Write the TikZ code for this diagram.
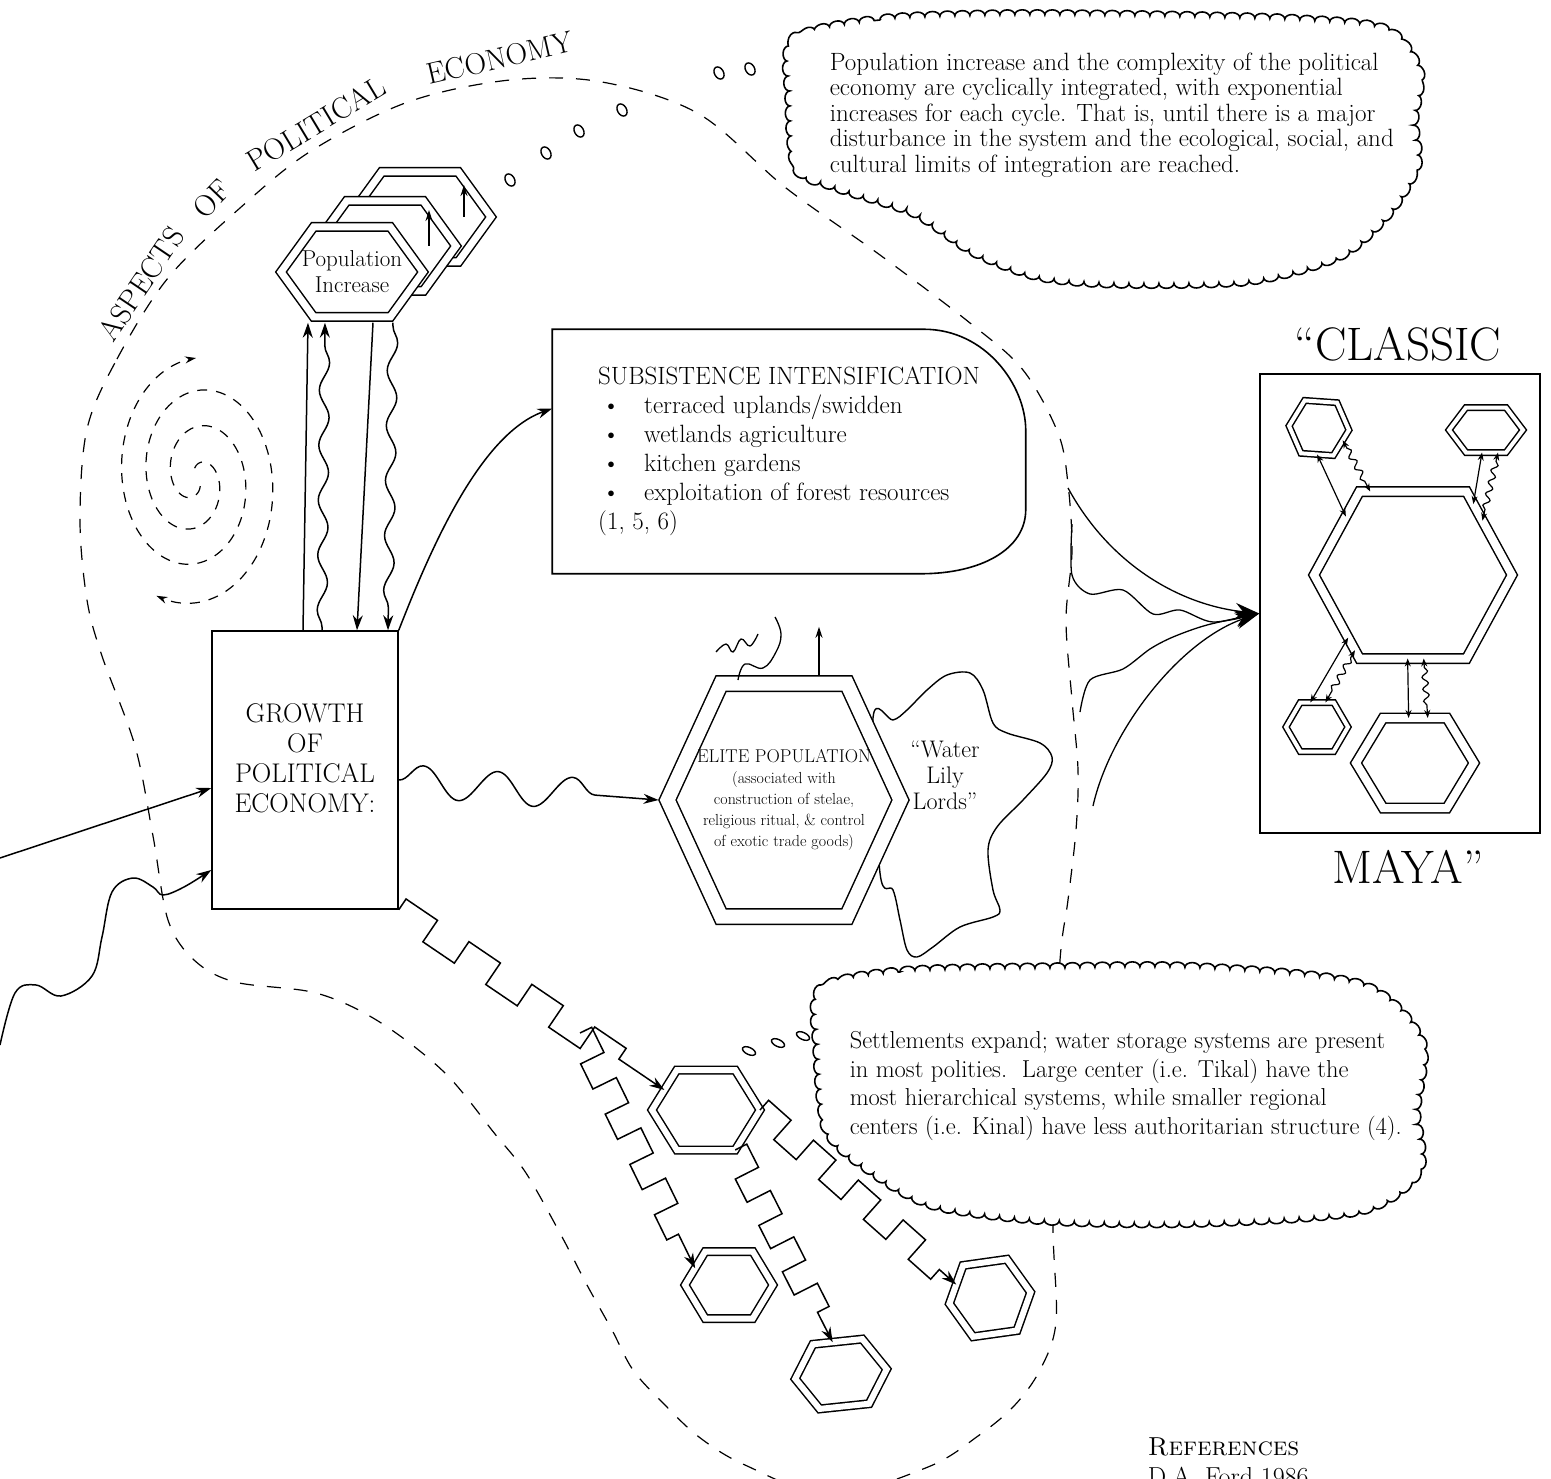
\documentclass[tikz,border=0pt]{standalone}
\usetikzlibrary{arrows.meta,calc,decorations.pathmorphing}

% square steps for the settlement links
\pgfdeclaredecoration{castle}{up}{%
  \state{up}[width=\pgfdecorationsegmentlength, next state=down]{%
    \pgfpathlineto{\pgfpoint{0pt}{\pgfdecorationsegmentamplitude}}%
    \pgfpathlineto{\pgfpoint{\pgfdecorationsegmentlength}{\pgfdecorationsegmentamplitude}}%
  }%
  \state{down}[width=\pgfdecorationsegmentlength, next state=up]{%
    \pgfpathlineto{\pgfpoint{0pt}{-\pgfdecorationsegmentamplitude}}%
    \pgfpathlineto{\pgfpoint{\pgfdecorationsegmentlength}{-\pgfdecorationsegmentamplitude}}%
  }%
  \state{final}{\pgfpathlineto{\pgfpointdecoratedpathlast}}%
}

\tikzset{
  arr/.style={-{Stealth[length=15pt,width=10pt]}},
  sarr/.style={-{Stealth[length=11pt,width=7pt]}},
  darr/.style={{Stealth[length=8pt,width=6pt]}-{Stealth[length=8pt,width=6pt]}},
  fanarr/.style={-{Stealth[length=24pt,width=16pt]}},
  bound/.style={dash pattern=on 14pt off 13pt, line width=1.2pt},
  spiral/.style={dash pattern=on 10pt off 9pt, line width=1.2pt},
  wave/.style={decorate, decoration={snake, segment length=55pt, amplitude=5pt, pre length=3pt, post length=16pt}},
  swave/.style={decorate, decoration={snake, segment length=12pt, amplitude=3pt, pre length=9pt, post length=9pt}},
  castle/.style={decorate, decoration={castle, segment length=#1, amplitude=13pt, post length=22pt}},
  castle/.default=38pt,
  cloudline/.style={decorate, decoration={bumps, segment length=30pt, amplitude=5pt}, line width=1.6pt, fill=white},
  cloudtext/.style={inner sep=0pt, align=left, font=\fontsize{25}{25.5}\selectfont},
  titletext/.style={inner sep=0pt, font=\fontsize{30}{32}\selectfont},
  hexline/.style={draw, double, line width=1.5pt, fill=white},
  hex font/.style={},
  hexbox/.style={inner sep=0pt, align=center, hex font},
  gbox/.style={draw, line width=1.5pt, fill=white},
  gtext/.style={align=center, font=\fontsize{27}{30}\selectfont},
  subtext/.style={inner sep=0pt, align=left, font=\fontsize{25}{29}\selectfont},
  bigtext/.style={inner sep=0pt, font=\fontsize{47}{52}\selectfont},
  pics/dhex/.style n args={4}{code={%
    % #1 width, #2 height, #3 gap of the double line, #4 text
    \draw[hexline, double distance=#3] (-#1/2,0) -- (-0.27*#1,-#2/2) -- (0.27*#1,-#2/2)
      -- (#1/2,0) -- (0.27*#1,#2/2) -- (-0.27*#1,#2/2) -- cycle;
    \coordinate (-w) at (-#1/2,0);
    \coordinate (-nw) at (-0.27*#1,-#2/2);
    \coordinate (-ne) at (0.27*#1,-#2/2);
    \coordinate (-e) at (#1/2,0);
    \coordinate (-se) at (0.27*#1,#2/2);
    \coordinate (-sw) at (-0.27*#1,#2/2);
    \node[hexbox, minimum width=#1, minimum height=#2] (-b) at (0,0) {#4};
  }}
}

\begin{document}
\begin{tikzpicture}[x=1pt, y=-1pt, line width=1.5pt]
\useasboundingbox (0,0) rectangle (1551,1479);

% boundary of the political economy
\draw[bound] plot[smooth cycle, tension=0.55] coordinates {
  (87,429) (117,359) (168,278) (240,208) (311,151) (408,102) (510,80) (602,82)
  (699,114) (786,188) (880,255) (970,323) (1023,370) (1058,433) (1068,484)
  (1072,551) (1066,620) (1072,700) (1078,770) (1076,830) (1068,900) (1060,960)
  (1053,1100) (1053,1230) (1056,1322) (1040,1370) (1014,1406) (978,1436)
  (928,1467) (830,1495) (745,1465) (699,1437) (663,1403) (633,1370) (612,1330)
  (587,1285) (561,1235) (526,1173) (495,1134) (444,1072) (378,1021) (316,993)
  (235,982) (194,960) (168,920) (153,836) (135,746) (102,656) (87,600) (80,520)};

% title round the boundary
\node[titletext, rotate=56] (asp) at (141,284) {ASPECTS};
\node[titletext, rotate=46] (of) at (212,199) {OF};
\node[titletext, rotate=31] (pol) at (316,124) {POLITICAL};
\node[titletext, rotate=13] (eco) at (500,58) {ECONOMY};

% whirl
\draw[spiral, sarr] plot[domain=-666:-90, samples=90, smooth, variable=\t]
  ({196+0.72*(10+(\t+666)/576*110)*cos(\t)}, {478+(10+(\t+666)/576*110)*sin(\t)});
\draw[spiral, sarr] plot[domain=-461:115, samples=90, smooth, variable=\t]
  ({196+0.72*(10+(\t+461)/576*120)*cos(\t)}, {478+(10+(\t+461)/576*120)*sin(\t)});

% thought bubbles
\foreach \x/\y in {510/180, 546/153, 579/131, 622/110, 719/73, 750/69}
  \draw[line width=1.4pt, rotate around={30:(\x,\y)}] (\x,\y) circle[x radius=4.5, y radius=6.5];
\foreach \x/\y in {749/1051, 778/1043, 803/1036}
  \draw[line width=1.4pt, rotate around={-25:(\x,\y)}] (\x,\y) circle[x radius=7, y radius=3.5];

% top cloud
\draw[cloudline] plot[smooth cycle, tension=0.5] coordinates {
  (795,40) (880,20) (1000,15) (1150,16) (1300,20) (1385,30) (1418,70) (1414,120)
  (1416,165) (1389,212) (1340,255) (1250,280) (1120,283) (1040,276) (975,252)
  (915,213) (840,188) (798,168) (790,100)};
\node[cloudtext, anchor=north west] (cycle) at (829,52) {Population increase and the complexity of the political\\
  economy are cyclically integrated, with exponential\\
  increases for each cycle. That is, until there is a major\\
  disturbance in the system and the ecological, social, and\\
  cultural limits of integration are reached.};

% population increase, repeated
\pic (pop3) at (420,217) {dhex={142}{90}{7pt}{}};
\draw[sarr] ([xshift=44pt]pop3-b.center) -- ++(0,-32);
\pic (pop2) at (385,246) {dhex={142}{90}{7pt}{}};
\draw[sarr] ([xshift=44pt]pop2-b.center) -- ++(0,-36);
\pic[hex font/.style={font=\fontsize{23}{26}\selectfont}] (pop) at (352,272) {dhex={142}{90}{7pt}{Population\\Increase}};

% growth of political economy
\node[gbox, minimum width=186, minimum height=278] (grow) at (305,770) {};
\node[gtext] (growtxt) at (305,758) {GROWTH\\OF\\POLITICAL\\ECONOMY:};

\draw[arr] ([xshift=-2pt]grow.north) -- ([xshift=-44pt,yshift=-5pt]pop-b.south);
\draw[arr, wave] ([xshift=17pt]grow.north) -- ([xshift=-27pt,yshift=-5pt]pop-b.south);
\draw[arr] ([xshift=21pt,yshift=-5pt]pop-b.south) -- ([xshift=52pt]grow.north);
\draw[arr, wave] ([xshift=41pt,yshift=-5pt]pop-b.south) -- ([xshift=83pt]grow.north);

% inputs from the left
\coordinate (in1) at (0,858);
\coordinate (in2) at (0,1045);
\draw[arr] (in1) -- ([yshift=-18pt]grow.west);
\draw[arr] plot[smooth, tension=0.6] coordinates {(in2) (15,993) (36,985) (61,996) (92,976)
  (102,937) (112,892) (133,878) (153,887) (163,895) (184,887) ([yshift=-100pt]grow.west)};

% subsistence intensification
\node[subtext, minimum width=472, minimum height=243] (sub) at (789,451.5) {SUBSISTENCE INTENSIFICATION\\
  \makebox[46pt][l]{\hspace{4pt}\textbullet}terraced uplands/swidden\\
  \makebox[46pt][l]{\hspace{4pt}\textbullet}wetlands agriculture\\
  \makebox[46pt][l]{\hspace{4pt}\textbullet}kitchen gardens\\
  \makebox[46pt][l]{\hspace{4pt}\textbullet}exploitation of forest resources\\
  (1, 5, 6)};
\draw[line width=1.6pt] (sub.south west) -- (sub.north west) -- ([xshift=-102pt]sub.north east)
  .. controls +(62,0) and +(0,-45) .. ([yshift=21pt]sub.east)
  -- ([yshift=-58pt]sub.east) .. controls +(0,40) and +(60,0) .. ([xshift=-105pt]sub.south east) -- cycle;
\draw[arr] (grow.north east) .. controls +(35,-90) and +(-70,25) .. ([yshift=43pt]sub.west);

% water lily lords
\draw[line width=1.4pt, fill=white] plot[smooth cycle, tension=0.55] coordinates {
  (873,718) (893,720) (907,710) (927,690) (947,675) (970,673) (983,690) (993,723)
  (1007,733) (1040,743) (1052,757) (1047,773) (1023,800) (997,827) (988,850)
  (993,890) (1000,910) (993,917) (960,927) (933,947) (917,957) (907,950) (900,920)
  (893,890) (880,873)};
\node[align=center, font=\fontsize{24}{26}\selectfont] (lily) at (945,775) {``Water\\Lily\\Lords''};

% elite population
\pic[hex font/.style={font=\fontsize{16}{21}\selectfont}] (elite) at (784,800)
  {dhex={233}{233}{14pt}{{\fontsize{18.5}{21}\selectfont ELITE POPULATION}\\(associated with\\construction of stelae,\\religious ritual, \& control\\of exotic trade goods)}};
\draw[arr, decorate, decoration={snake, segment length=75pt, amplitude=16pt, post length=28pt}]
  ([yshift=-10pt]grow.east) -- ([xshift=-9pt]elite-w);
\draw[sarr] ([xshift=35pt,yshift=8pt]elite-b.north) -- ++(0,-48);
\draw[line width=1.3pt] plot[smooth, tension=0.7] coordinates {(738,680) (745,664) (763,668) (776,652) (781,634) (775,617)};
\draw[line width=1.3pt] plot[smooth, tension=0.7] coordinates {(716,652) (726,644) (733,652) (741,639) (750,646) (758,634)};

% settlements
\pic (h1) at (706,1110) {dhex={108}{80}{6pt}{}};
\pic (h2) at (729,1285) {dhex={88}{67}{6pt}{}};
\pic[rotate=6] (h3) at (841,1374) {dhex={92}{65}{6pt}{}};
\pic[rotate=8] (h4) at (990,1298) {dhex={82}{72}{6pt}{}};
\coordinate (fork) at (580,1033);
\draw[arr, castle] (grow.south east) -- ($(h1-w)!.5!(h1-nw)$);
\draw[arr, castle=28pt] (fork) -- ($(h2-w)!.5!(h2-nw)$);
\draw[arr, castle=26pt] (h1-se) -- ($(h3-nw)!.4!(h3-ne)$);
\draw[arr, castle=30pt] (h1-e) -- ($(h4-w)!.5!(h4-nw)$);

% bottom cloud
\draw[cloudline] plot[smooth cycle, tension=0.5] coordinates {
  (822,990) (900,972) (1050,968) (1200,968) (1360,985) (1420,1040) (1416,1110)
  (1418,1170) (1360,1210) (1200,1222) (1050,1220) (935,1205) (870,1170) (828,1130) (818,1050)};
\node[cloudtext, font=\fontsize{24.5}{28.5}\selectfont, anchor=north west] (settle) at (849,1031) {Settlements expand; water storage systems are present\\
  in most polities.\ \ Large center (i.e. Tikal) have the\\
  most hierarchical systems, while smaller regional\\
  centers (i.e. Kinal) have less authoritarian structure (4).};

% classic maya
\node[draw, line width=1.6pt, minimum width=280, minimum height=459] (cbox) at (1400,603.5) {};
\node[bigtext] (classic) at (1398,344) {``CLASSIC};
\node[bigtext] (maya) at (1408,867) {MAYA''};
\coordinate (fantip) at ([yshift=-10pt]cbox.west);
\coordinate (f1) at (1068,488);
\coordinate (f2) at (1072,524);
\coordinate (f3) at (1080,712);
\coordinate (f4) at (1093,806);
\draw[fanarr, line width=1.3pt] (f1) .. controls (1110,565) and (1180,605) .. (fantip);
\draw[fanarr, line width=1.3pt] plot[smooth] coordinates {(f2) (1072,575) (1090,594) (1123,590) (1153,614) (1180,610) (1213,622) (fantip)};
\draw[fanarr, line width=1.3pt] plot[smooth] coordinates {(f3) (1090,680) (1123,669) (1150,649) (1173,637) (1207,625) (fantip)};
\draw[fanarr, line width=1.3pt] (f4) .. controls (1110,730) and (1180,640) .. (fantip);

\pic (big) at (1413,575) {dhex={198}{167}{8pt}{}};
\pic[rotate=-4] (tl) at (1319,428) {dhex={60}{53}{4pt}{}};
\pic (tr) at (1486,430) {dhex={74}{45}{4pt}{}};
\pic (bl) at (1317,727) {dhex={62}{49}{4pt}{}};
\pic (br) at (1415,763) {dhex={118}{90}{8pt}{}};

\draw[darr, line width=1.2pt] ($(tl-sw)!.5!(tl-se)$) -- ($(big-w)!.7!(big-nw)$);
\draw[darr, swave, line width=1.2pt] ($(tl-e)!.4!(tl-se)$) -- ($(big-nw)!.1!(big-ne)$);
\draw[darr, line width=1.2pt] ($(tr-sw)!.4!(tr-se)$) -- ($(big-ne)!.15!(big-e)$);
\draw[darr, swave, line width=1.2pt] ($(tr-sw)!.8!(tr-se)$) -- ($(big-ne)!.35!(big-e)$);
\draw[darr, line width=1.2pt] ($(big-w)!.75!(big-sw)$) -- ($(bl-nw)!.3!(bl-ne)$);
\draw[darr, swave, line width=1.2pt] ($(big-w)!.9!(big-sw)$) -- ($(bl-nw)!.75!(bl-ne)$);
\draw[darr, line width=1.2pt] ($(big-sw)!.45!(big-se)$) -- ($(br-nw)!.4!(br-ne)$);
\draw[darr, swave, line width=1.2pt] ($(big-sw)!.6!(big-se)$) -- ($(br-nw)!.7!(br-ne)$);

% references
\node[inner sep=0pt, align=left, anchor=north west, font=\fontsize{26}{30}\selectfont] (refs) at (1147,1437) {\textsc{References}\\D.A. Ford 1986};
\end{tikzpicture}
\end{document}
